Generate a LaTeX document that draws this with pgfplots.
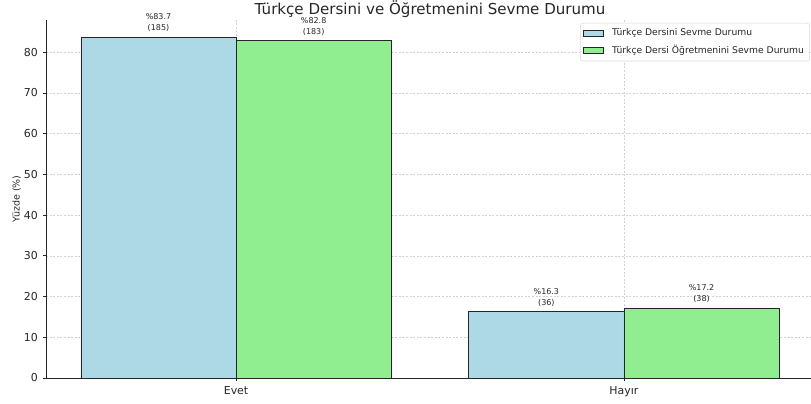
\documentclass[border=0pt]{standalone}
\usepackage{pgfplots}
\pgfplotsset{compat=1.18}
\usepackage{fontspec}
\setmainfont{DejaVu Sans}
\definecolor{lblue}{HTML}{ADD8E6}
\definecolor{lgreen}{HTML}{90EE90}
\definecolor{txt}{HTML}{262626}
\begin{document}
\begin{tikzpicture}
\begin{axis}[
  scale only axis,
  width=576pt, height=268.5pt,
  xmin=-0.49, xmax=1.49, ymin=0, ymax=87.9,
  axis lines*=left,
  axis line style={black!85, line width=0.6pt},
  xtick={0,1}, xticklabels={Evet,Hayır},
  ytick={0,10,20,30,40,50,60,70,80},
  tick align=outside, major tick length=2.6pt,
  tick style={black!85, line width=0.6pt},
  grid=major,
  grid style={dash pattern=on 1.5pt off 1.2pt, gray!35, line width=0.4pt},
  ybar, bar width=0.4, bar shift=0pt,
  ylabel={Yüzde (\%)},
  ylabel style={font=\fontsize{7.1}{9}\selectfont, text=txt, at={(ticklabel cs:0.5,-4.5pt)}},
  title={Türkçe Dersini ve Öğretmenini Sevme Durumu},
  title style={font=\fontsize{11.3}{13}\selectfont, text=txt, at={(0.5,1)}, anchor=base, yshift=-1.7pt, inner sep=0pt},
  tick label style={font=\fontsize{8.2}{10}\selectfont, text=txt},
  /pgf/number format/assume math mode=true,
  legend style={at={(1,1)}, anchor=north east, xshift=-3pt, yshift=-2.2pt,
    font=\fontsize{6.9}{8}\selectfont, text=txt, draw=gray!30, rounded corners=2pt,
    row sep=1.2pt, inner sep=2.3pt, cells={anchor=west}},
  legend image code/.code={\draw[#1, sharp corners, draw=black!85, line width=0.6pt] (1pt,-2.3pt) rectangle (16pt,2.3pt); \path (20pt,0pt);},
  nodes near coords,
  point meta=explicit symbolic,
  every node near coord/.append style={font=\fontsize{6}{8.2}\selectfont, text=txt, align=center, inner sep=0pt, yshift=3.6pt},
]
\addplot[fill=lblue, draw=black!85, line width=0.6pt] coordinates {
  (-0.2,83.7) [{\%83.7\\(185)}]
  (0.8,16.3) [{\%16.3\\(36)}]
};
\addlegendentry{Türkçe Dersini Sevme Durumu}
\addplot[fill=lgreen, draw=black!85, line width=0.6pt] coordinates {
  (0.2,82.8) [{\%82.8\\(183)}]
  (1.2,17.2) [{\%17.2\\(38)}]
};
\addlegendentry{Türkçe Dersi Öğretmenini Sevme Durumu}
\end{axis}
\pgfresetboundingbox
\path[use as bounding box] ([shift={(-34.5pt,-18.75pt)}]current axis.south west) rectangle ([shift={(573.75pt,15pt)}]current axis.north west);
\end{tikzpicture}
\end{document}
